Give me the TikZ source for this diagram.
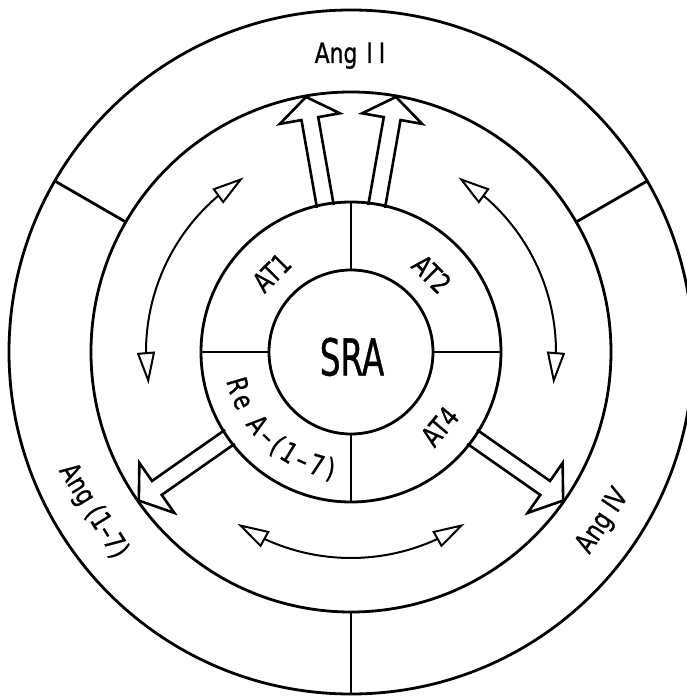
\documentclass[tikz,border=0pt]{standalone}
\usepackage{fontspec}
\newfontfamily\labfont[FakeStretch=0.78,FakeBold=0.8]{DejaVu Sans}
\newfontfamily\srafont[FakeStretch=0.64,FakeBold=0.8]{DejaVu Sans}
\usetikzlibrary{arrows.meta,bending,decorations.text}
\begin{document}
\begin{tikzpicture}[
  ring/.style={line width=2.8pt},
  lab/.style={font=\labfont\fontsize{28}{28}\selectfont, inner sep=0pt, text height=20pt, text depth=0pt},
  bigarrow/.style={line width=2.6pt, line join=miter},
  dblarc/.style={line width=2pt, {Triangle[open,length=32pt,width=18pt,flex]}-{Triangle[open,length=32pt,width=18pt,flex]}},
  pics/fatarrow/.style={code={
    \draw[bigarrow] (147.8pt,-8.5pt) -- (237pt,-8.5pt) -- (237pt,-30.5pt) -- (259pt,0pt)
      -- (237pt,30.5pt) -- (237pt,8.5pt) -- (147.8pt,8.5pt);
  }}
]
\useasboundingbox (-351pt,-344pt) rectangle (336pt,352pt);
\coordinate (O) at (0pt,0pt);

% big hollow arrows
\pic[rotate=100] at (O) {fatarrow};
\pic[rotate=80] at (O) {fatarrow};
\pic[rotate=215] at (O) {fatarrow};
\pic[rotate=325] at (O) {fatarrow};

% rings
\draw[ring] (O) circle[radius=342pt];
\draw[ring] (O) circle[radius=260pt];
\draw[ring] (O) circle[radius=150pt];
\draw[ring] (O) circle[radius=82pt];

% dividers
\foreach \a in {30,150,270} \draw[ring] (\a:259pt) -- (\a:343pt);
\foreach \a in {0,90,180,270} \draw[ring] (\a:81pt) -- (\a:151pt);

% thin double arcs
\draw[dblarc] (121.6:205pt) arc[start angle=121.6, end angle=189, radius=205pt];
\draw[dblarc] (58.4:205pt) arc[start angle=58.4, end angle=-9, radius=205pt];
\draw[dblarc] (236.5:206pt) arc[start angle=236.5, end angle=303.5, radius=206pt];

% labels
\node[lab] (angII) at (-1pt,299pt) {Ang\hspace{9pt}I\kern6pt I};
\node[lab, rotate=-58.3] (ang17) at (211.7:301pt) {Ang (1–7)};
\node[lab, rotate=56] (angIV) at (-33.9:301pt) {Ang IV};
\node[lab, rotate=45] (at1) at (135:112pt) {AT1};
\node[lab, rotate=-45] (at2) at (44:112pt) {AT2};
\node[lab, rotate=50] (at4) at (-40:116pt) {AT4};
\node[inner sep=0pt, font=\srafont\fontsize{51}{51}\selectfont, text height=37pt, text depth=0pt] (sra) at (1pt,-5pt) {SRA};
\path[decorate, decoration={text along path,
   text={|\labfont\fontsize{28}{28}\selectfont|Re A–(1–7)}, text align=fit to path}]
   (193:128pt) arc[start angle=193, end angle=262, radius=128pt];
\end{tikzpicture}
\end{document}
